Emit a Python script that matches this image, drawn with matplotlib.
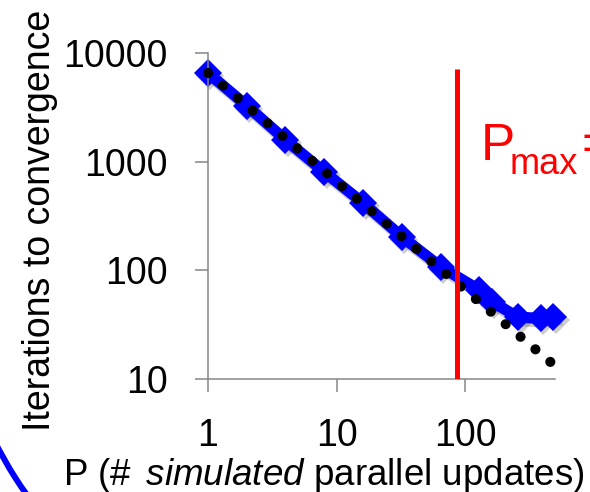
import matplotlib
matplotlib.use('Agg')
import matplotlib.pyplot as plt
from matplotlib.transforms import offset_copy
from matplotlib.patches import Arc

# data (log-log)
p = [1, 2, 4, 8, 16, 32, 64, 128, 160, 256, 384, 480]
iterations = [6550, 3275, 1585, 804, 417, 204, 108, 66, 51.6, 37, 36.2, 37.4]
trend_p = [1, 500]
trend_iters = [6550, 13.1]
p_max = 86
p_max_top = 7130
xticks = [1, 10, 100]
xtick_labels = ['1', '10', '100']
yticks = [10, 100, 1000, 10000]
ytick_labels = ['10', '100', '1000', '10000']

plt.rcParams['font.family'] = ['Liberation Sans', 'DejaVu Sans']
plt.rcParams['mathtext.fontset'] = 'custom'
plt.rcParams['mathtext.rm'] = 'Liberation Sans'
plt.rcParams['mathtext.it'] = 'Liberation Sans:italic'

fig = plt.figure(figsize=(5.9, 4.92), dpi=100)
ax = fig.add_axes([0.3525, 0.2297, 0.589, 0.6626])
ax.set_xscale('log')
ax.set_yscale('log')
ax.set_xlim(1, 500)
ax.set_ylim(10, 10000)

# soft drop shadow under the blue series
shadow = offset_copy(ax.transData, fig=fig, x=2.5, y=-3, units='dots')
ax.plot(p, iterations, color='0.3', alpha=0.28, lw=9, marker='D', ms=14.5, mew=0,
        transform=shadow, clip_on=False, zorder=1)
ax.plot(p, iterations, color='#0000ff', lw=8, marker='D', ms=14, mew=0,
        clip_on=False, zorder=2)
# dotted power-law trend line
ax.plot(trend_p, trend_iters, color='black', lw=7.3, linestyle=(0, (0.001, 1.92)),
        dash_capstyle='round', clip_on=False, zorder=3)
ax.vlines(p_max, 10, p_max_top, color='#ff0000', lw=3.6, zorder=4)

for s in ['top', 'right']:
    ax.spines[s].set_visible(False)
for s in ['left', 'bottom']:
    ax.spines[s].set_color('#868686')
    ax.spines[s].set_linewidth(1.1)

ax.set_xticks(xticks)
ax.set_xticklabels(xtick_labels)
ax.set_yticks(yticks)
ax.set_yticklabels(ytick_labels)
ax.minorticks_off()
ax.tick_params(axis='both', length=9.4, width=1.1, color='#868686', labelsize=27)
ax.tick_params(axis='x', pad=18.7)
ax.tick_params(axis='y', pad=19.4)

fig.text(40 / 590, 0.5528, 'Iterations to convergence', rotation=90,
         ha='center', va='center', fontsize=27)
fig.text(63 / 590, 7 / 492, r'P (# $\,\mathit{simulated}$ parallel updates)',
         fontsize=26.5, va='baseline')

# P_max label, pieces placed separately to get the deep subscript
red = '#ff0000'
fig.text(481 / 590, (492 - 160) / 492, 'P', color=red, fontsize=37, va='baseline')
fig.text(510 / 590, (492 - 174) / 492, 'max', color=red, fontsize=26, va='baseline')
fig.text(581 / 590, (492 - 160) / 492, '=', color=red, fontsize=37, va='baseline')

# edge of the slide's blue outline, bottom-left corner
arc = Arc((3.525, 2.294), 8.0, 8.0, theta1=200, theta2=225,
          transform=fig.dpi_scale_trans, color='#0000ff', lw=4.3)
fig.add_artist(arc)

fig.savefig('out.png', dpi=100)
